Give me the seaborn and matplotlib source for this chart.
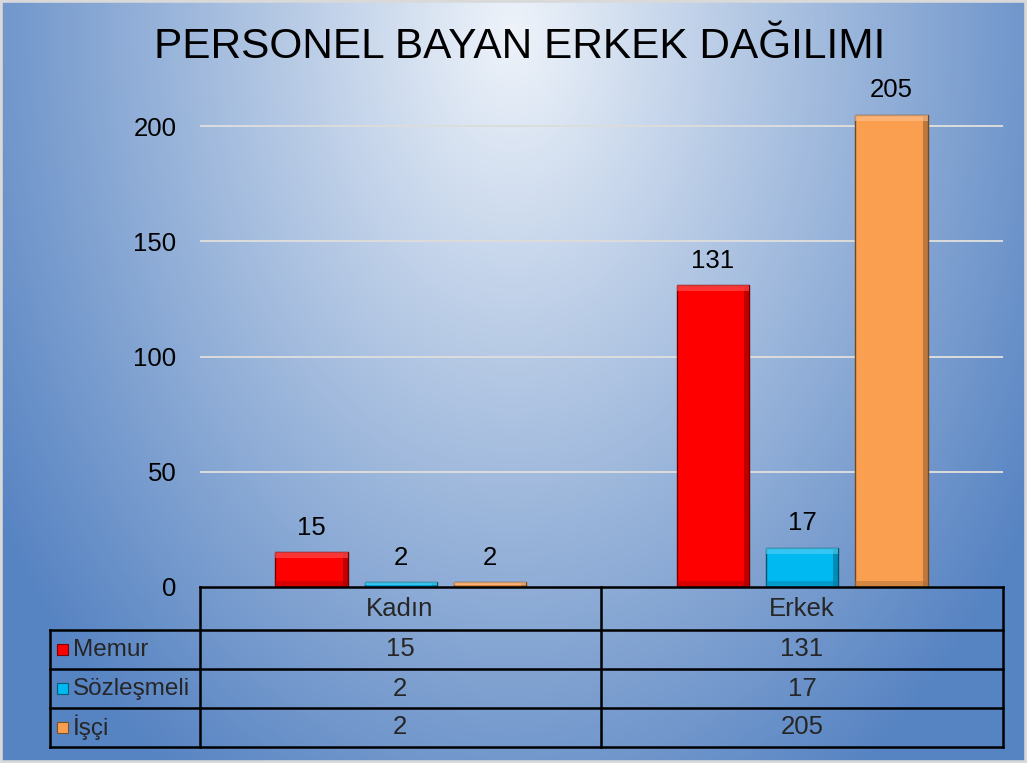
import numpy as np
import pandas as pd
import matplotlib
matplotlib.use('Agg')
import matplotlib.pyplot as plt
from matplotlib.colors import LinearSegmentedColormap, to_rgb
from matplotlib import font_manager
import seaborn as sns

# veriler
baslik = 'PERSONEL BAYAN ERKEK DAĞILIMI'
gruplar = ['Kadın', 'Erkek']
seriler = ['Memur', 'Sözleşmeli', 'İşçi']
memur = [15, 131]
sozlesmeli = [2, 17]
isci = [2, 205]
renkler = ['#fe0000', '#00b9f1', '#fa9e50']
yticks = [0, 50, 100, 150, 200]

df = pd.DataFrame({
    'grup': gruplar * 3,
    'seri': [s for s in seriler for _ in gruplar],
    'deger': memur + sozlesmeli + isci,
})
tablo = [memur, sozlesmeli, isci]

sns.set_theme(style='white')
plt.rcParams['font.family'] = ['Liberation Sans', 'DejaVu Sans']

names = {f.name for f in font_manager.fontManager.ttflist}
if 'Liberation Sans Narrow' in names:
    title_font, title_size = 'Liberation Sans Narrow', 32
else:
    title_font, title_size = 'Liberation Sans', 30.5
FS = 18.5

W, H = 1027, 763
fig = plt.figure(figsize=(W / 100, H / 100), dpi=100)

# arka plan gradyani
bg = fig.add_axes([0, 0, 1, 1])
yy, xx = np.mgrid[0:H, 0:W]
t = np.sqrt(((xx - 512) / 620) ** 2 + ((yy - 30) / 900) ** 2).clip(0, 1)
cmap = LinearSegmentedColormap.from_list('bg', [(0, '#eef3fa'), (0.45, '#a9c0e0'), (1, '#5683c2')])
bg.imshow(t, cmap=cmap, vmin=0, vmax=1, extent=(0, W, H, 0), aspect='auto', interpolation='bilinear')
bg.set_xlim(0, W)
bg.set_ylim(H, 0)
bg.axis('off')
bg.add_patch(plt.Rectangle((0, 0), W, H, fill=False, edgecolor='#d9d9d9', lw=4))

# grafik
ax = fig.add_axes([200 / W, (H - 587) / H, 803 / W, (587 - 103) / H])
ax.set_facecolor('none')
sns.barplot(data=df, x='grup', y='deger', hue='seri', palette=renkler, saturation=1,
            width=0.667, gap=0.19, legend=False, ax=ax, zorder=3)
ax.set_ylim(0, 210)
ax.set_xlim(-0.5, 1.5)

# cubuklara hafif kabartma (sag kenar koyu, ust kenar acik)
px_x = 2.0 / 803
px_y = 210.0 / (587 - 103)
for cont, r in zip(ax.containers, renkler):
    rgb = np.array(to_rgb(r))
    koyu = tuple(rgb * 0.45)
    for bar in cont:
        bar.set_edgecolor(koyu)
        bar.set_linewidth(1.0)
        x0, w, h = bar.get_x(), bar.get_width(), bar.get_height()
        bh = min(6 * px_y, h / 2)
        ax.add_patch(plt.Rectangle((x0 + w - 5 * px_x, 0), 5 * px_x, h, facecolor=tuple(rgb * 0.6),
                                   lw=0, alpha=0.6, zorder=3.5))
        ax.add_patch(plt.Rectangle((x0, h - bh), w, bh, facecolor=tuple(rgb + (1 - rgb) * 0.35),
                                   lw=0, alpha=0.6, zorder=3.5))
        ax.add_patch(plt.Rectangle((x0, 0), w, bh, facecolor=tuple(rgb * 0.7),
                                   lw=0, alpha=0.5, zorder=3.5))
    ax.bar_label(cont, padding=9, fontsize=FS, color='black')

ax.set_yticks(yticks)
ax.set_yticklabels([str(v) for v in yticks], fontsize=FS, color='black')
ax.tick_params(axis='y', length=0, pad=17)
ax.set_xticks([])
ax.set_xlabel('')
ax.set_ylabel('')
for v in yticks[1:]:
    ax.axhline(v, color='#dcdcdc', lw=1.4, zorder=1)
for s in ax.spines.values():
    s.set_visible(False)

fig.text(520 / W, 1 - 47 / H, baslik, ha='center', va='center',
         fontsize=title_size, family=title_font, color='black')

# veri tablosu
ov = fig.add_axes([0, 0, 1, 1])
ov.set_xlim(0, W)
ov.set_ylim(H, 0)
ov.axis('off')
ov.patch.set_alpha(0)
lk = dict(color='black', lw=1.8, solid_capstyle='projecting')
satir_y = [587, 630, 669, 708, 747]
ov.plot([200, 1003], [587, 587], **lk)
for y in satir_y[1:]:
    ov.plot([50, 1003], [y, y], **lk)
ov.plot([50, 50], [630, 747], **lk)
for x in [200, 601, 1003]:
    ov.plot([x, x], [587, 747], **lk)

orta = [400, 802]
for x, g in zip(orta, gruplar):
    ov.text(x, 609, g, ha='center', va='center', fontsize=FS)
for i, (s, r) in enumerate(zip(seriler, renkler)):
    yc = (satir_y[i + 1] + satir_y[i + 2]) / 2
    koyu = tuple(c * 0.5 for c in to_rgb(r))
    ov.add_patch(plt.Rectangle((57, yc - 6), 11, 11, facecolor=r, edgecolor=koyu, lw=0.8))
    ov.text(73, yc, s, ha='left', va='center', fontsize=17.5)
    for x, v in zip(orta, tablo[i]):
        ov.text(x, yc, str(v), ha='center', va='center', fontsize=FS)

fig.savefig('out.png', dpi=100)
